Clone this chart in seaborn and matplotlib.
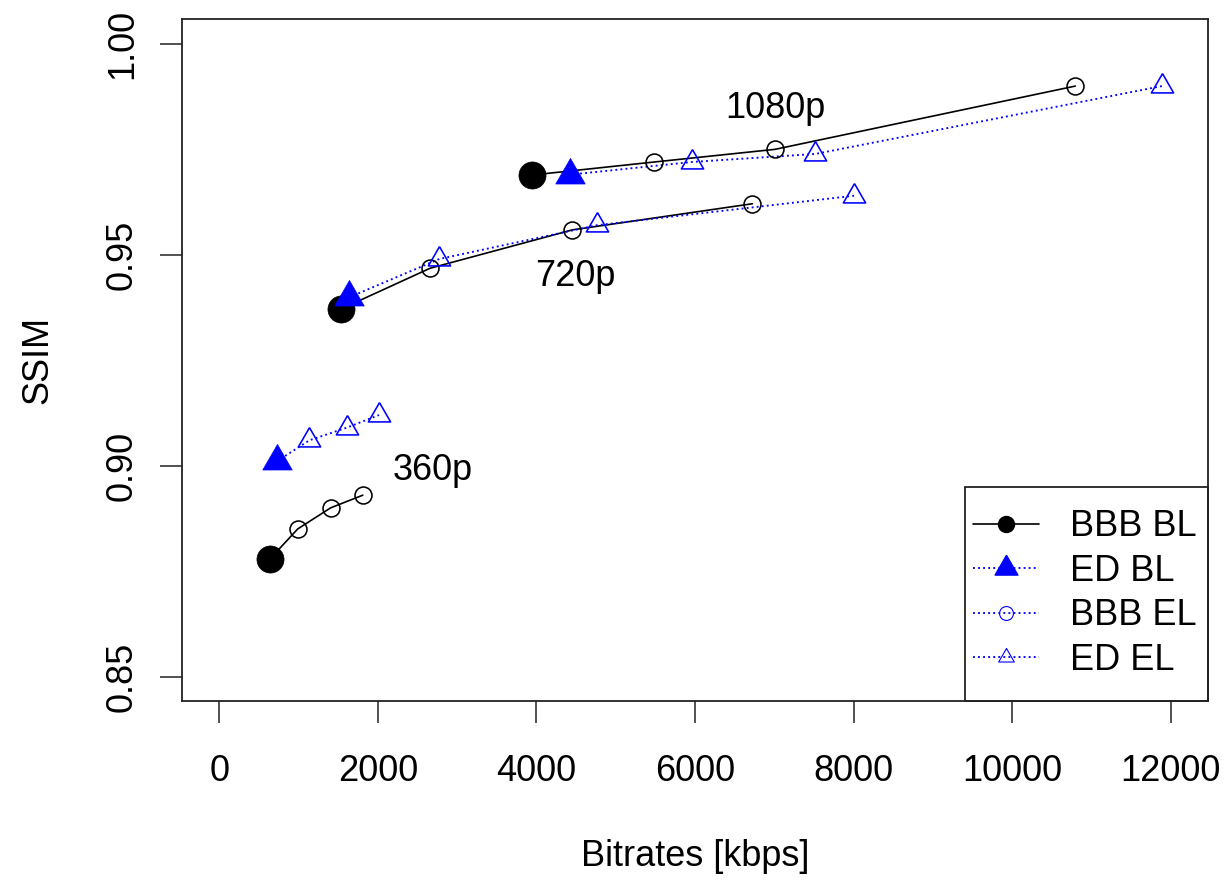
import matplotlib
matplotlib.use("Agg")
import matplotlib.pyplot as plt
import seaborn as sns
import pandas as pd
from matplotlib.lines import Line2D
from matplotlib.patches import Rectangle

# values (bitrate in kbps, SSIM)
resolutions = ["360p", "720p", "1080p"]

bbb_bl_rate = [640, 1531, 3940]
bbb_bl_ssim = [0.8779, 0.9371, 0.9689]
ed_bl_rate = [724, 1636, 4424]
ed_bl_ssim = [0.9010, 0.9399, 0.9690]

bbb_el_rate = [[990, 1405, 1810], [2658, 4453, 6723], [5487, 7009, 10795]]
bbb_el_ssim = [[0.885, 0.890, 0.893], [0.9468, 0.9559, 0.9621], [0.9720, 0.9750, 0.9900]]
ed_el_rate = [[1135, 1607, 2014], [2775, 4760, 8006], [5958, 7516, 11887]]
ed_el_ssim = [[0.906, 0.909, 0.912], [0.9490, 0.9570, 0.9640], [0.9720, 0.9739, 0.9900]]

# where the resolution names sit (data coords, text baseline)
label_rate = [2695, 4493, 7009]
label_ssim = [0.8966, 0.9425, 0.9824]

x_ticks = [0, 2000, 4000, 6000, 8000, 10000, 12000]
y_ticks = [0.85, 0.90, 0.95, 1.00]

BLUE = "#0000FF"
DOTS = (0, (1, 1.7))
# triangle with its centroid on the data point (like R's pch 2/17)
TRI = [(0, 1), (-0.866, -0.5), (0.866, -0.5), (0, 1)]

sns.set_style("ticks")
plt.rcParams["font.family"] = ["Liberation Sans", "DejaVu Sans"]
plt.rcParams["text.color"] = "black"
plt.rcParams["axes.labelcolor"] = "black"
plt.rcParams["xtick.color"] = "black"
plt.rcParams["ytick.color"] = "black"

fig = plt.figure(figsize=(12.29, 8.8), dpi=100)
ax = fig.add_axes([0.1478, 0.2034, 0.9829 - 0.1478, 0.9784 - 0.2034])

for i, res in enumerate(resolutions):
    bbb = pd.DataFrame({"rate": [bbb_bl_rate[i]] + bbb_el_rate[i],
                        "ssim": [bbb_bl_ssim[i]] + bbb_el_ssim[i]})
    ed = pd.DataFrame({"rate": [ed_bl_rate[i]] + ed_el_rate[i],
                       "ssim": [ed_bl_ssim[i]] + ed_el_ssim[i]})

    sns.lineplot(data=bbb, x="rate", y="ssim", ax=ax, estimator=None, sort=False,
                 color="black", linewidth=1.2)
    sns.lineplot(data=ed, x="rate", y="ssim", ax=ax, estimator=None, sort=False,
                 color=BLUE, linewidth=1.35, linestyle=DOTS)

    # enhancement layers: open markers
    sns.lineplot(data=bbb.iloc[1:], x="rate", y="ssim", ax=ax, estimator=None,
                 sort=False, linestyle="none", marker="o", markersize=12.2,
                 markerfacecolor="none", markeredgecolor="black", markeredgewidth=1.15)
    sns.lineplot(data=ed.iloc[1:], x="rate", y="ssim", ax=ax, estimator=None,
                 sort=False, linestyle="none", marker=TRI, markersize=18.5,
                 markerfacecolor="none", markeredgecolor=BLUE, markeredgewidth=1.15)

    # base layers: filled markers
    sns.lineplot(data=bbb.iloc[:1], x="rate", y="ssim", ax=ax, estimator=None,
                 linestyle="none", marker="o", markersize=19.5,
                 markerfacecolor="black", markeredgecolor="black", markeredgewidth=0.5)
    sns.lineplot(data=ed.iloc[:1], x="rate", y="ssim", ax=ax, estimator=None,
                 linestyle="none", marker=TRI, markersize=24.5,
                 markerfacecolor=BLUE, markeredgecolor=BLUE, markeredgewidth=0.5)

    ax.text(label_rate[i], label_ssim[i], res, fontsize=26, color="black",
            ha="center", va="baseline")

ax.set_xlim(-474, 12468)
ax.set_ylim(0.8442, 1.0059)
ax.set_xticks(x_ticks)
ax.set_xticklabels([str(t) for t in x_ticks])
ax.set_yticks(y_ticks)
ax.set_yticklabels([f"{t:.2f}" for t in y_ticks], rotation=90, va="center")

ax.tick_params(axis="both", direction="out", length=16, width=1.1, color="#222222",
               labelsize=26, labelcolor="black")
ax.tick_params(axis="x", pad=22)
ax.tick_params(axis="y", pad=14)

for s in ax.spines.values():
    s.set_visible(True)
    s.set_linewidth(1.3)
    s.set_color("#222222")

ax.set_xlabel("Bitrates [kbps]", fontsize=26, labelpad=36, color="black")
ax.set_ylabel("SSIM", fontsize=26, labelpad=36, color="black")

# legend: frameless entries plus a plain rectangle that sits in the corner
handles = [
    Line2D([], [], color="black", linewidth=1.2, marker="o", markersize=11.5,
           markerfacecolor="black", markeredgecolor="black"),
    Line2D([], [], color=BLUE, linewidth=1.35, linestyle=DOTS, marker=TRI,
           markersize=19, markerfacecolor=BLUE, markeredgecolor=BLUE),
    Line2D([], [], color=BLUE, linewidth=1.35, linestyle=DOTS, marker="o",
           markersize=10, markerfacecolor="none", markeredgecolor=BLUE, markeredgewidth=0.8),
    Line2D([], [], color=BLUE, linewidth=1.35, linestyle=DOTS, marker=TRI,
           markersize=13, markerfacecolor="none", markeredgecolor=BLUE, markeredgewidth=0.8),
]
labels = ["BBB BL", "ED BL", "BBB EL", "ED EL"]
leg = ax.legend(handles, labels, loc="center left", bbox_to_anchor=(0.771, 0.1576),
                frameon=False, fontsize=26, borderpad=0, borderaxespad=0,
                handlelength=1.83, handletextpad=0.86, labelspacing=0.26)
for t in leg.get_texts():
    t.set_color("black")
ax.add_patch(Rectangle((0.7632, 0), 0.2368, 0.3138, transform=ax.transAxes,
                       fill=False, edgecolor="#222222", linewidth=1.3, clip_on=False,
                       zorder=5))

fig.savefig("out.png", dpi=100)
